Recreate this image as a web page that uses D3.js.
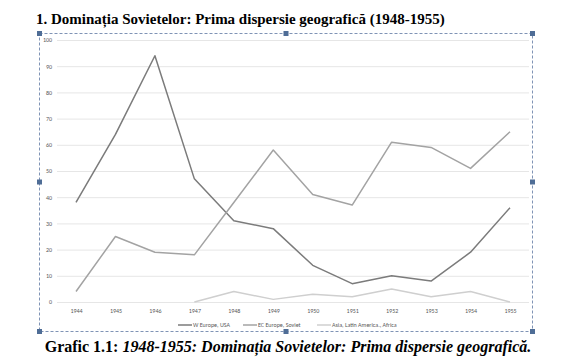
<!DOCTYPE html>
<head>
<meta charset="utf-8">
<title>Grafic 1.1</title>
<script type="text/javascript" src="https://cdn.jsdelivr.net/npm/d3@7/dist/d3.min.js"></script>
<style>
body { margin: 0; background: #fff; }
.axis text { font: 6px Calibri, "Liberation Sans", sans-serif; fill: #595959; }
.axis path, .axis line { fill: none; stroke: none; }
</style>
</head>
<body>
<script>
// values
var years = [1944, 1945, 1946, 1947, 1948, 1949, 1950, 1951, 1952, 1953, 1954, 1955];
var wEurope = [38, 64, 94, 47, 31, 28, 14, 7, 10, 8, 19, 36];
var ecEurope = [4, 25, 19, 18, 38, 58, 41, 37, 61, 59, 51, 65];
var asia = [null, null, null, 0, 4, 1, 3, 2, 5, 2, 4, 0];
var seriesNames = ["W Europe, USA", "EC Europe, Soviet", "Asia, Latin America., Africa"];
var seriesColors = ["#7b7b7b", "#a3a3a3", "#cfcfcf"];
var yTicks = [0, 10, 20, 30, 40, 50, 60, 70, 80, 90, 100];

var W = 578, H = 362;
var svg = d3.select("body").append("svg")
	.attr("width", W)
	.attr("height", H);

// heading and caption
svg.append("text")
	.attr("x", 36).attr("y", 24)
	.style("font", "bold 15px 'Liberation Serif', serif")
	.text("1. Dominația Sovietelor: Prima dispersie geografică (1948-1955)");

var cap = svg.append("text")
	.attr("x", 288).attr("y", 352)
	.attr("text-anchor", "middle")
	.style("font", "bold 16px 'Liberation Serif', serif");
cap.append("tspan").text("Grafic 1.1: ");
cap.append("tspan").style("font-style", "italic").text("1948-1955: Dominația Sovietelor: Prima dispersie geografică.");

// chart frame (selected look)
svg.append("rect")
	.attr("x", 39.5).attr("y", 33.5)
	.attr("width", 493).attr("height", 298)
	.attr("fill", "none")
	.attr("stroke", "#7f93b5")
	.attr("stroke-dasharray", "3,2");

var handles = [[39.5, 33.5], [286, 33.5], [532.5, 33.5], [39.5, 182], [532.5, 182], [39.5, 331.5], [286, 331.5], [532.5, 331.5]];
svg.selectAll(".handle").data(handles).enter().append("rect")
	.attr("x", function(d) { return d[0] - 2.5; })
	.attr("y", function(d) { return d[1] - 2.5; })
	.attr("width", 5).attr("height", 5)
	.attr("fill", "#4f6d96");

// scales
var x = d3.scalePoint().domain(years).range([76, 510]);
var y = d3.scaleLinear().domain([0, 100]).range([302, 40]);

// gridlines
svg.selectAll(".grid").data(yTicks).enter().append("line")
	.attr("x1", 57).attr("x2", 529)
	.attr("y1", function(d) { return y(d) + 0.5; })
	.attr("y2", function(d) { return y(d) + 0.5; })
	.attr("stroke", "#e6e6e6")
	.attr("stroke-width", 1);

svg.append("g").attr("class", "axis")
	.attr("transform", "translate(52,0)")
	.call(d3.axisLeft(y).tickValues(yTicks).tickSize(0).tickPadding(0));

svg.append("g").attr("class", "axis")
	.attr("transform", "translate(0,306)")
	.call(d3.axisBottom(x).tickSize(0).tickPadding(3).tickFormat(d3.format("d")));

// lines
var allSeries = [wEurope, ecEurope, asia];
var line = d3.line()
	.defined(function(d) { return d != null; })
	.x(function(d, i) { return x(years[i]); })
	.y(function(d) { return y(d); });

svg.selectAll(".series").data(allSeries).enter().append("path")
	.attr("d", line)
	.attr("fill", "none")
	.attr("stroke", function(d, i) { return seriesColors[i]; })
	.attr("stroke-width", 1.5)
	.attr("stroke-linejoin", "round");

// legend
var legendX = [178, 243, 317];
var leg = svg.selectAll(".leg").data(seriesNames).enter().append("g")
	.attr("transform", function(d, i) { return "translate(" + legendX[i] + ",325)"; });
leg.append("line")
	.attr("x1", 0).attr("x2", 14)
	.attr("stroke", function(d, i) { return seriesColors[i]; })
	.attr("stroke-width", 1.5);
leg.append("text")
	.attr("x", 15).attr("y", 2)
	.style("font", "6px Calibri, 'Liberation Sans', sans-serif")
	.style("fill", "#595959")
	.text(function(d) { return d; });
</script>
</body>
